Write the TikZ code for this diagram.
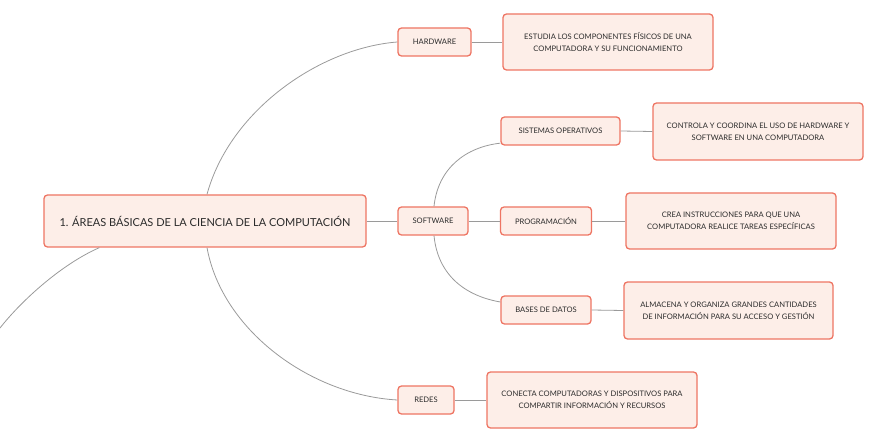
\documentclass[tikz,border=0pt]{standalone}
\usepackage{fontspec}
\setmainfont{Lato}
\definecolor{boxfill}{HTML}{FDEEE8}
\definecolor{boxline}{HTML}{EE7563}
\definecolor{conn}{HTML}{9A9A9A}
\definecolor{txt}{HTML}{2B2B2B}
\begin{document}
\begin{tikzpicture}[x=1pt,y=-1pt,
  box/.style={draw=boxline,fill=boxfill,line width=1.3pt,rounded corners=3.5pt,
    text=txt,align=center,inner sep=0pt,font=\fontsize{7.6}{12}\selectfont},
  mainbox/.style={box,font=\fontsize{11}{13}\selectfont},
  link/.style={draw=conn,line width=0.8pt}]
\useasboundingbox (0,0) rectangle (882,443);
% nodes
\node[mainbox,minimum width=322,minimum height=52] (main) at (205,221) {1. ÁREAS BÁSICAS DE LA CIENCIA DE LA COMPUTACIÓN};
\node[box,minimum width=73,minimum height=28] (hw) at (434.5,42) {HARDWARE};
\node[box,minimum width=210,minimum height=56] (hwd) at (608,42) {ESTUDIA LOS COMPONENTES FÍSICOS DE UNA\\COMPUTADORA Y SU FUNCIONAMIENTO};
\node[box,minimum width=70,minimum height=28] (sw) at (433,221) {SOFTWARE};
\node[box,minimum width=119,minimum height=28] (so) at (560.5,131) {SISTEMAS OPERATIVOS};
\node[box,minimum width=210,minimum height=57] (sod) at (758,131.5) {CONTROLA Y COORDINA EL USO DE HARDWARE Y\\SOFTWARE EN UNA COMPUTADORA};
\node[box,minimum width=91,minimum height=28] (prog) at (546,221) {PROGRAMACIÓN};
\node[box,minimum width=210,minimum height=56] (progd) at (731,221) {CREA INSTRUCCIONES PARA QUE UNA\\COMPUTADORA REALICE TAREAS ESPECÍFICAS};
\node[box,minimum width=90,minimum height=28] (bd) at (546,310) {BASES DE DATOS};
\node[box,minimum width=209,minimum height=57] (bdd) at (728.5,310.5) {ALMACENA Y ORGANIZA GRANDES CANTIDADES\\DE INFORMACIÓN PARA SU ACCESO Y GESTIÓN};
\node[box,minimum width=56,minimum height=28] (red) at (426,400) {REDES};
\node[box,minimum width=210,minimum height=56] (redd) at (592,400) {CONECTA COMPUTADORAS Y DISPOSITIVOS PARA\\COMPARTIR INFORMACIÓN Y RECURSOS};
\coordinate (off) at (0,328);
% connectors
\draw[link] (main.north) ++(2,0) .. controls (230,110) and (320,48) .. (hw.west);
\draw[link] (main.south) ++(2,0) .. controls (222,330) and (310,395) .. (red.west);
\draw[link] (main.south west) ++(56,0) .. controls (62,264) and (22,300) .. (off);
\draw[link] (main.east) -- (sw.west);
\draw[link] (hw.east) -- (hwd.west);
\draw[link] (sw.north) ++(1,0) .. controls (438,168) and (466,147) .. ([yshift=2.5pt]so.south west);
\draw[link] (sw.east) -- (prog.west);
\draw[link] (sw.south) ++(1,0) .. controls (438,276) and (466,296) .. ([yshift=8pt]bd.west);
\draw[link] (so.east) -- (sod.west);
\draw[link] (prog.east) -- (progd.west);
\draw[link] (bd.east) -- (bdd.west);
\draw[link] (red.east) -- (redd.west);
\end{tikzpicture}
\end{document}
